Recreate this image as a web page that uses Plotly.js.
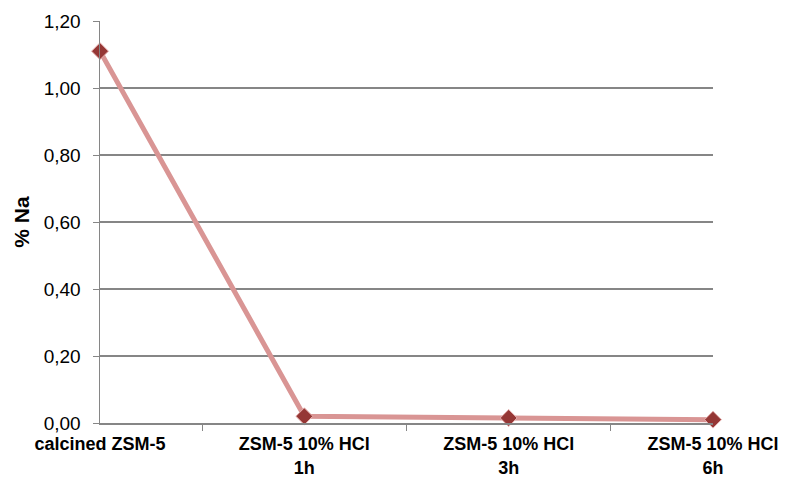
<!DOCTYPE html>
<html><head><meta charset="utf-8">
<script src="https://cdn.plot.ly/plotly-3.0.1.min.js"></script>
<style>body{margin:0;background:#fff}#c{width:792px;height:479px}</style>
</head><body><div id="c"></div>
<script>
const categories = ["calcined ZSM-5", "ZSM-5 10% HCl<br>1h", "ZSM-5 10% HCl<br>3h", "ZSM-5 10% HCl<br>6h"];
const naPercent = [1.11, 0.02, 0.015, 0.01];
const yTicks = [0, 0.2, 0.4, 0.6, 0.8, 1.0, 1.2];

Plotly.newPlot('c', [{
  x: categories, y: naPercent, type: 'scatter', mode: 'lines+markers',
  line: {color: '#d99594', width: 5},
  marker: {symbol: 'diamond', size: 13, color: '#953735', line: {color: '#e6b0af', width: 1}},
  cliponaxis: false, hoverinfo: 'none'
}], {
  width: 792, height: 479,
  margin: {l: 100, r: 79, t: 21, b: 56},
  paper_bgcolor: '#fff', plot_bgcolor: '#fff',
  separators: ', ',
  showlegend: false,
  font: {family: 'Liberation Sans, Arial, sans-serif', color: '#000'},
  xaxis: {
    type: 'category', range: [0, 3], tickson: 'boundaries',
    ticks: 'outside', ticklen: 6, tickcolor: '#868686',
    showgrid: false, zeroline: false,
    showline: true, linecolor: '#868686', linewidth: 1.5,
    ticklabelstandoff: 4,
    tickfont: {size: 18, family: 'Liberation Sans, Arial, sans-serif', weight: 'bold'}
  },
  yaxis: {
    range: [0, 1.2], tickvals: yTicks, tickformat: '.2f',
    ticks: 'outside', ticklen: 6, tickcolor: '#868686',
    showgrid: true, gridcolor: '#868686', gridwidth: 1.2,
    zeroline: false, showline: true, linecolor: '#868686', linewidth: 1.5,
    ticklabelstandoff: 8,
    tickfont: {size: 19},
    title: {text: '% Na', font: {size: 21, weight: 'bold'}, standoff: 8}
  }
}, {staticPlot: true});
</script></body></html>
